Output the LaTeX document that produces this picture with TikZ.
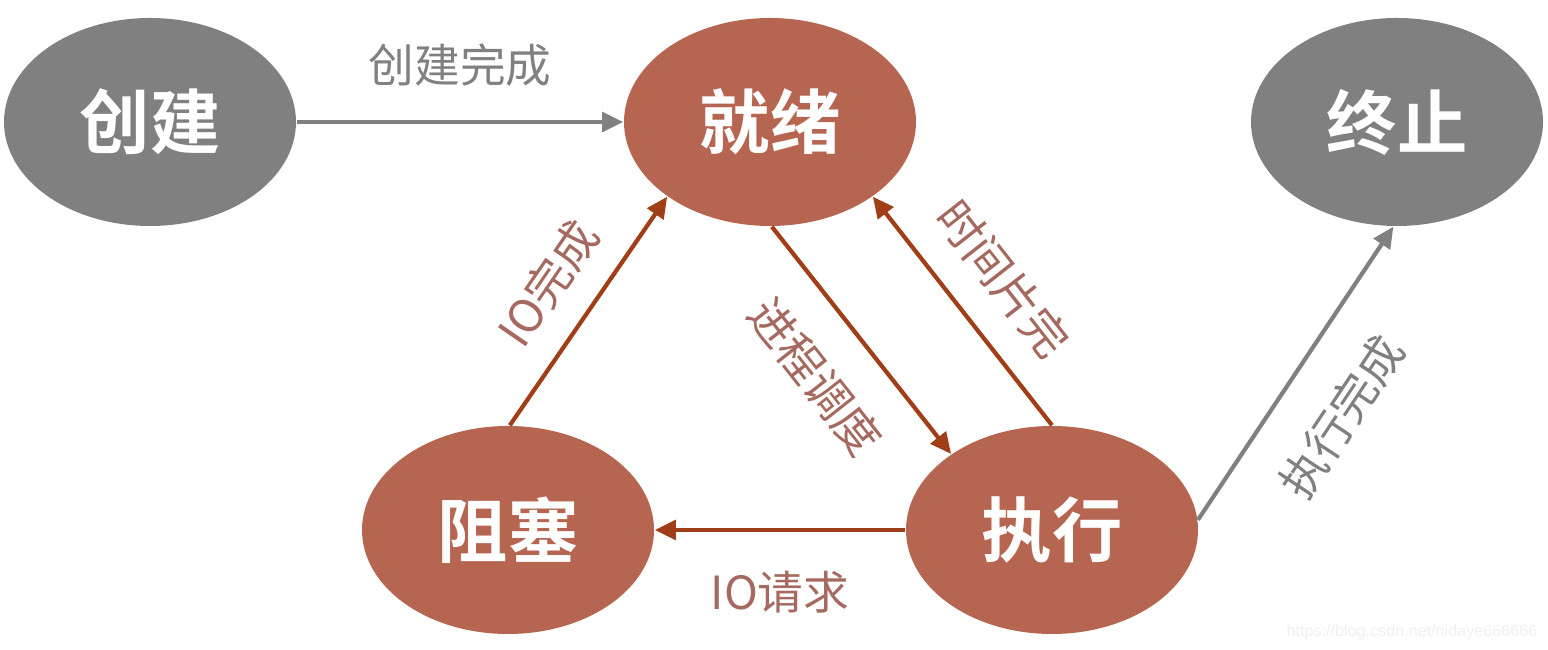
\documentclass[tikz,border=0pt]{standalone}
\usepackage{fontspec}
\usepackage{tikz}
\usepackage{xcolor}
\newfontfamily\cjk{Noto Sans CJK SC}[BoldFont={Noto Sans CJK SC Bold}]
\setmainfont{Liberation Sans}
\usetikzlibrary{
    arrows.meta,
    positioning,
    shapes.geometric
}
\definecolor{stgray}{RGB}{128,128,128}
\definecolor{strust}{RGB}{182,101,80}
\definecolor{arrrust}{RGB}{160,62,24}
\definecolor{labrust}{RGB}{165,105,95}

\begin{document}
\begin{tikzpicture}[
    state/.style={ellipse, fill=strust, minimum width=2.92cm,
                  minimum height=2.08cm, inner sep=0pt,
                  text=white, font=\cjk\bfseries\fontsize{20}{24}\selectfont},
    gstate/.style={state, fill=stgray},
    arr/.style={-{Triangle[length=6pt,width=5.5pt]}, line width=1.2pt, arrrust},
    arrg/.style={-{Triangle[length=6pt,width=5.5pt]}, line width=1.2pt, stgray},
    lab/.style={font=\cjk\fontsize{13}{15}\selectfont, text=labrust, inner sep=1pt},
    labg/.style={lab, text=stgray}
  ]
    \useasboundingbox (0,0) rectangle (15.48,6.5);
    \node[gstate] (cj) at (1.50, 5.28) {创建};
    \node[state]  (jx) at (7.70, 5.28) {就绪};
    \node[gstate] (zz) at (13.97,5.28) {终止};
    \node[state]  (zs) at (5.08, 1.20) {阻塞};
    \node[state]  (zh) at (10.52,1.20) {执行};

    \draw[arrg](cj)--node[above=0.3cm,labg]{创建完成}(jx);
    \draw[arr](zs.89)--node[sloped,above=0.22cm,lab]{IO完成}(jx.216);
    \draw[arr](jx.-89)--node[sloped,below=0.32cm,lab]{进程调度}(zh.143);
    \draw[arr](zh.90)--node[sloped,above=0.25cm,lab]{时间片完}(jx.-36);
    \draw[arr](zh.west)--node[below=0.35cm,lab]{IO请求}(zs.east);
    \draw[arrg](zh.4)--node[sloped,below=0.35cm,pos=0.47,labg]{执行完成}(zz.-92);

    \node[anchor=east, text=gray!12, font=\fontsize{4.6}{6}\selectfont, inner sep=0pt]
      (wm) at (15.38,0.18) {https://blog.csdn.net/nidaye666666};
  \end{tikzpicture}
\end{document}
